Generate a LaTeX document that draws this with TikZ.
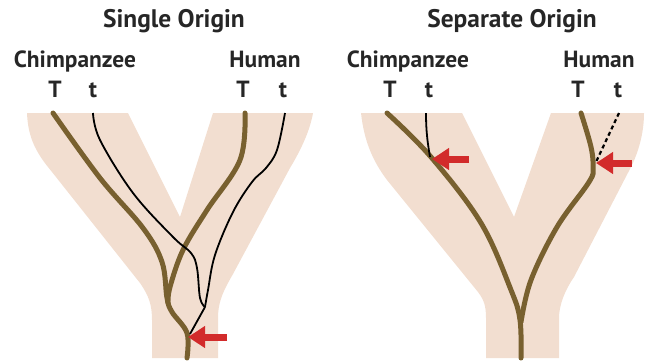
\documentclass[tikz,border=0pt]{standalone}
\usepackage{fontspec}
\setmainfont{PT Sans}
\usetikzlibrary{arrows.meta, calc}
\definecolor{branchfill}{HTML}{F2DED0}
\definecolor{lineagebrown}{HTML}{78602F}
\definecolor{arrowred}{HTML}{D22B2B}
\tikzstyle{title} = [anchor=base, font=\bfseries\fontsize{25.5}{28}\selectfont, text=black!85]
\tikzstyle{species} = [anchor=base, font=\bfseries\fontsize{23.5}{26}\selectfont, text=black!85]
\tikzstyle{gene} = [anchor=base, font=\bfseries\fontsize{23.5}{26}\selectfont, text=black!85]
\tikzstyle{branch} = [fill=branchfill, draw=none]
\tikzstyle{bigT} = [draw=lineagebrown, line width=5bp, line cap=round, line join=round]
\tikzstyle{smallt} = [draw=black, line width=1.8bp, line join=round]
\tikzstyle{pointer} = [draw=arrowred, line width=7bp, -{Triangle[length=17bp,width=21bp]}]

\begin{document}
\begin{tikzpicture}[x=1bp, y=-1bp]
    \useasboundingbox (0,0) rectangle (648,362);

    % headings
    \node (single) [title] at (174,27) {Single Origin};
    \node (separate) [title] at (512,27) {Separate Origin};
    \node (chimpL) [species] at (75,67) {Chimpanzee};
    \node (humanL) [species] at (265,67) {Human};
    \node (chimpR) [species] at (408,67) {Chimpanzee};
    \node (humanR) [species] at (599,67) {Human};
    \node (TchimpL) [gene] at (55,97) {T};
    \node (tchimpL) [gene] at (93,97) {t};
    \node (ThumanL) [gene] at (243,97) {T};
    \node (thumanL) [gene] at (283,97) {t};
    \node (TchimpR) [gene] at (390,97) {T};
    \node (tchimpR) [gene] at (429,97) {t};
    \node (ThumanR) [gene] at (578,97) {T};
    \node (thumanR) [gene] at (618,97) {t};

    % the two Y-shaped trees
    \path [branch] (27,113) .. controls (28,140) and (38,155) .. (52,172) -- (140,283)
        .. controls (149,296) and (152,305) .. (152,320) -- (152,358) -- (218,358) -- (218,318)
        .. controls (218,300) and (225,288) .. (233,274) -- (290,168)
        .. controls (302,148) and (310,130) .. (313,113) -- (213,113) -- (180,217) -- (128,113) -- cycle;
    \path [branch] (361,113) .. controls (364,140) and (372,160) .. (387,180) -- (478,292)
        .. controls (484,300) and (486,306) .. (486,318) -- (486,358) -- (559,358) -- (559,318)
        .. controls (559,305) and (565,290) .. (574,277) -- (632,165)
        .. controls (640,148) and (644,130) .. (644,113) -- (551,113) -- (514,217) -- (462,113) -- cycle;

    % single origin
    \coordinate (mergeL) at (205,307);
    \coordinate (originL) at (190,334);
    \draw [bigT] plot [smooth, tension=0.6] coordinates {(53,113) (100,178) (143,228) (162,262) (167,298) (172,312) (187,333) (187,358)};
    \draw [bigT] plot [smooth, tension=0.6] coordinates {(245,113) (240,160) (207,210) (183,250) (170,287) (168,303)};
    \draw [smallt] plot [smooth, tension=0.6] coordinates {(93,113) (100,140) (133,193) (173,237) (191,253) (197,268) (200,298) (205,307)};
    \draw [smallt] plot [smooth, tension=0.6] coordinates {(285,113) (277,150) (266,168) (252,182) (233,212) (215,255) (208,290) (205,307)};
    \draw [smallt] (mergeL) -- (originL);
    \coordinate (tailL) at (227,337);
    \coordinate (tipL) at (188,337);
    \draw [pointer] (tailL) -- (tipL);

    % separate origin
    \draw [bigT] plot [smooth, tension=0.6] coordinates {(387,113) (431,157) (481,223) (511,290) (520,320) (521,358)};
    \draw [bigT] plot [smooth, tension=0.6] coordinates {(581,113) (591,147) (593,168) (589,182) (557,227) (531,280) (521,322)};
    \draw [smallt] (426,113) .. controls (426,133) and (428,145) .. (430,157);
    \draw [smallt, dash pattern=on 4bp off 3bp, line width=2.2bp] (619,113) -- (596,162);
    \coordinate (tailC) at (469,159);
    \coordinate (tipC) at (432,159);
    \draw [pointer] (tailC) -- (tipC);
    \coordinate (tailH) at (632,163);
    \coordinate (tipH) at (596,163);
    \draw [pointer] (tailH) -- (tipH);
\end{tikzpicture}
\end{document}
